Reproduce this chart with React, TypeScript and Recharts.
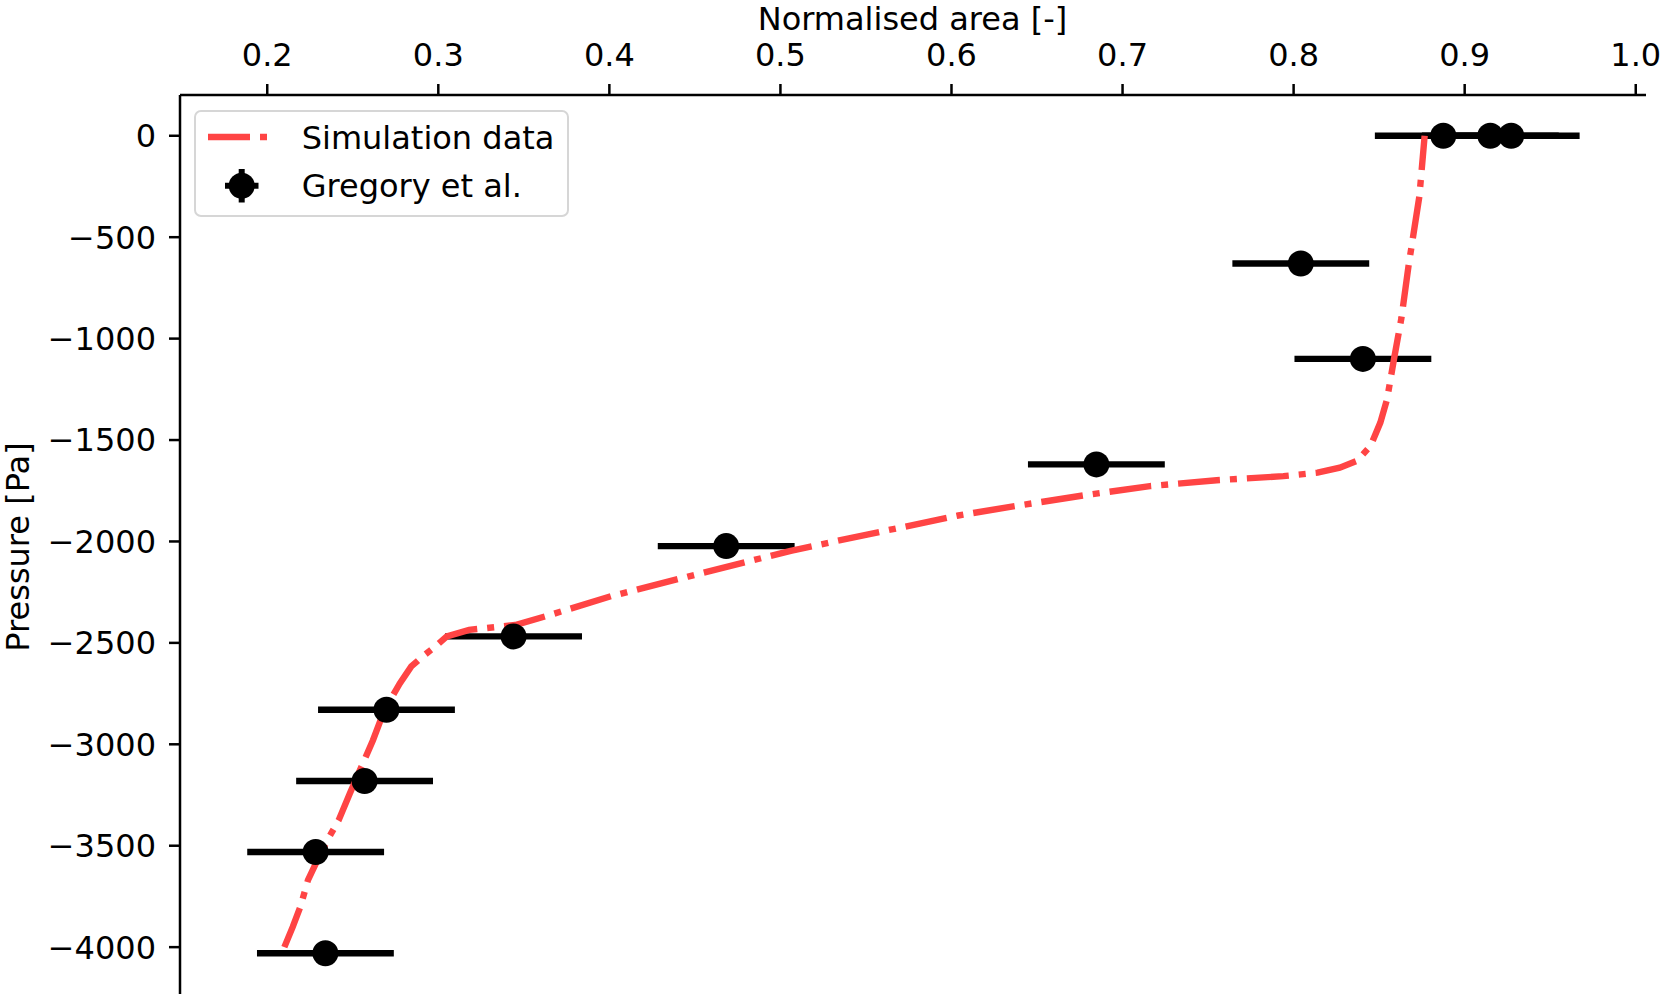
import {
    ComposedChart,
    Line,
    Scatter,
    XAxis,
    YAxis,
    ErrorBar,
    Legend,
    Label,
} from 'recharts';

// simulation curve (normalised area vs pressure)
const simArea = [
    0.210, 0.2149, 0.2194, 0.2238, 0.2283, 0.235, 0.2417, 0.2484, 0.2551, 0.2618,
    0.2685, 0.2775, 0.2842, 0.291, 0.298, 0.305, 0.318, 0.345, 0.363, 0.401,
    0.446, 0.506, 0.558, 0.604, 0.639, 0.678, 0.716, 0.755, 0.794, 0.814,
    0.827, 0.837, 0.845, 0.8507, 0.8546, 0.8587, 0.863, 0.8672, 0.8735, 0.8766,
];
const simPressure = [
    -4000, -3900, -3800, -3670, -3590, -3475, -3375, -3240, -3110, -2980,
    -2830, -2700, -2616, -2566, -2520, -2468, -2436, -2412, -2368, -2270,
    -2173, -2046, -1953, -1872, -1823, -1772, -1727, -1698, -1678, -1661,
    -1636, -1603, -1529, -1414, -1300, -1100, -900, -640, -300, 0,
];

// Gregory et al. measurements
const expArea = [0.8875, 0.9150, 0.9272, 0.8042, 0.8405, 0.6847, 0.4683, 0.344, 0.2697, 0.2569, 0.2283, 0.234];
const expPressure = [0, 0, 0, -630, -1100, -1620, -2023, -2468, -2830, -3181, -3531, -4030];
const expAreaErr = [0.04, 0.04, 0.04, 0.04, 0.04, 0.04, 0.04, 0.04, 0.04, 0.04, 0.04, 0.04];

const xTicks = [0.2, 0.3, 0.4, 0.5, 0.6, 0.7, 0.8, 0.9, 1.0];
const yTicks = [0, -500, -1000, -1500, -2000, -2500, -3000, -3500, -4000];

const SIM_COLOR = '#ff4444';
const FONT = 'DejaVu Sans';
const DASH = '42 10 7 10';

const simData = simArea.map((a, i) => ({ area: a, pressure: simPressure[i] }));
const expData = expArea.map((a, i) => ({ area: a, pressure: expPressure[i], err: expAreaErr[i] }));

const tickStyle = { fill: '#000', fontSize: 32, fontFamily: FONT };
const axisStroke = { stroke: '#000', strokeWidth: 2.5 };

const fmtY = (v: number) => (v < 0 ? `\u2212${Math.abs(v)}` : `${v}`);

function renderLegend() {
    return (
        <svg width={375} height={107} style={{ display: 'block' }}>
            <rect x={1} y={1} width={373} height={105} rx={6} fill="#fff" stroke="#d6d6d6" strokeWidth={2} />
            <line x1={14} x2={74} y1={27} y2={27} stroke={SIM_COLOR} strokeWidth={6.4} strokeDasharray={DASH} />
            <line x1={31} x2={64.5} y1={75.7} y2={75.7} stroke="#000" strokeWidth={6} />
            <line x1={47.7} x2={47.7} y1={59} y2={92.5} stroke="#000" strokeWidth={6} />
            <circle cx={47.7} cy={75.7} r={13} fill="#000" />
            <text x={107.7} y={39} fontSize={32} fontFamily={FONT} fill="#000">Simulation data</text>
            <text x={107.7} y={86.7} fontSize={32} fontFamily={FONT} fill="#000">Gregory et al.</text>
        </svg>
    );
}

export default function App() {
    return (
        <div style={{ position: 'absolute', left: 0, top: 0, width: 1661, height: 1004, background: '#fff' }}>
            <ComposedChart width={1661} height={1004} margin={{ top: 0, right: 15, bottom: 10, left: 0 }}>
                <XAxis
                    dataKey="area"
                    type="number"
                    orientation="top"
                    domain={[0.149, 1.006]}
                    ticks={xTicks}
                    allowDataOverflow
                    height={95}
                    tickSize={11}
                    tickMargin={18}
                    tick={tickStyle}
                    tickFormatter={(v: number) => v.toFixed(1)}
                    axisLine={axisStroke}
                    tickLine={axisStroke}
                >
                    <Label
                        content={() => (
                            <text x={912.5} y={29.5} textAnchor="middle" fontSize={32} fontFamily={FONT} fill="#000">
                                Normalised area [-]
                            </text>
                        )}
                    />
                </XAxis>
                <YAxis
                    dataKey="pressure"
                    type="number"
                    domain={[-4231, 201]}
                    ticks={yTicks}
                    allowDataOverflow
                    width={180}
                    tickSize={11}
                    tickMargin={13}
                    tick={tickStyle}
                    tickFormatter={fmtY}
                    axisLine={axisStroke}
                    tickLine={axisStroke}
                >
                    <Label
                        content={() => (
                            <text
                                x={29}
                                y={547}
                                transform="rotate(-90, 29, 547)"
                                textAnchor="middle"
                                fontSize={32}
                                fontFamily={FONT}
                                fill="#000"
                            >
                                Pressure [Pa]
                            </text>
                        )}
                    />
                </YAxis>
                {/* error bars underneath, then the curve, then the markers */}
                <Scatter
                    data={expData}
                    dataKey="pressure"
                    isAnimationActive={false}
                    legendType="none"
                    shape={() => <g />}
                >
                    <ErrorBar dataKey="err" direction="x" width={0} stroke="#000" strokeWidth={6.4} isAnimationActive={false} />
                </Scatter>
                <Line
                    data={simData}
                    dataKey="pressure"
                    type="linear"
                    stroke={SIM_COLOR}
                    strokeWidth={6.4}
                    strokeDasharray={DASH}
                    dot={false}
                    activeDot={false}
                    isAnimationActive={false}
                />
                <Scatter
                    data={expData}
                    dataKey="pressure"
                    fill="#000"
                    isAnimationActive={false}
                    shape={(p: any) => <circle cx={p.cx} cy={p.cy} r={13} fill="#000" />}
                />
                <Legend
                    layout="horizontal"
                    verticalAlign="middle"
                    align="center"
                    content={renderLegend}
                    wrapperStyle={{ left: 194, top: 110, width: 375, height: 107 }}
                />
            </ComposedChart>
        </div>
    );
}
